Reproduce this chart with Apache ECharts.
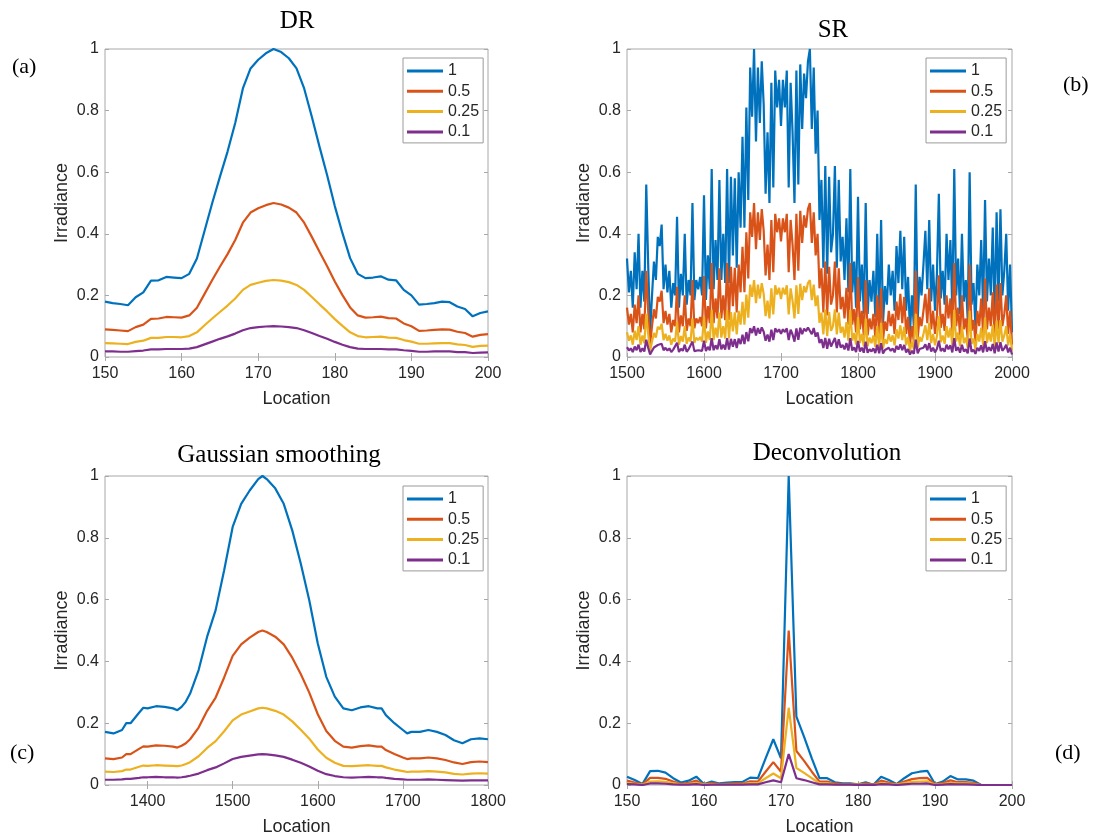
<!DOCTYPE html>
<html>
<head>
<meta charset="utf-8">
<title>Irradiance profiles</title>
<script src="https://cdn.jsdelivr.net/npm/echarts@6/dist/echarts.min.js"></script>
<style>
  html, body { margin: 0; padding: 0; background: #ffffff; }
  #chart { width: 1098px; height: 838px; }
</style>
</head>
<body>
<div id="chart"></div>
<script>
// Legend entries (source scaling factors) and their line colours
const seriesNames = ['1', '0.5', '0.25', '0.1'];
const seriesColors = ['#0072BD', '#D95319', '#EDB120', '#7E2F8E'];

// Tick labels
const yTicks = [0, 0.2, 0.4, 0.6, 0.8, 1];
const drTicks = [150, 160, 170, 180, 190, 200];
const srTicks = [1500, 1600, 1700, 1800, 1900, 2000];
const gsTicks = [1400, 1500, 1600, 1700, 1800];
const dcTicks = [150, 160, 170, 180, 190, 200];

// (a) DR
const drLocation = [150,151,152,153,154,155,156,157,158,159,160,161,162,163,164,165,166,167,168,169,170,171,172,173,174,175,176,177,178,179,180,181,182,183,184,185,186,187,188,189,190,191,192,193,194,195,196,197,198,199,200];
const drS1 = [0.18,0.175,0.172,0.168,0.194,0.21,0.248,0.249,0.26,0.258,0.256,0.27,0.32,0.41,0.50,0.585,0.667,0.76,0.872,0.937,0.965,0.986,1.0,0.99,0.97,0.937,0.872,0.78,0.683,0.59,0.49,0.402,0.321,0.27,0.256,0.258,0.262,0.251,0.249,0.218,0.2,0.17,0.172,0.175,0.18,0.178,0.164,0.156,0.132,0.143,0.148];
const drS05 = [0.09,0.088,0.086,0.084,0.097,0.105,0.124,0.125,0.13,0.129,0.128,0.135,0.16,0.205,0.25,0.293,0.334,0.38,0.436,0.469,0.483,0.493,0.5,0.495,0.485,0.469,0.436,0.39,0.342,0.295,0.245,0.201,0.161,0.135,0.128,0.129,0.131,0.126,0.125,0.109,0.1,0.085,0.086,0.088,0.09,0.089,0.082,0.078,0.066,0.072,0.074];
const drS025 = [0.045,0.044,0.043,0.042,0.049,0.053,0.062,0.062,0.065,0.065,0.064,0.068,0.08,0.103,0.125,0.146,0.167,0.19,0.218,0.234,0.241,0.247,0.25,0.248,0.243,0.234,0.218,0.195,0.171,0.148,0.123,0.101,0.08,0.068,0.064,0.065,0.066,0.063,0.062,0.055,0.05,0.043,0.043,0.044,0.045,0.045,0.041,0.039,0.033,0.036,0.037];
const drS01 = [0.018,0.018,0.017,0.017,0.019,0.021,0.025,0.025,0.026,0.026,0.026,0.027,0.032,0.041,0.05,0.059,0.067,0.076,0.087,0.094,0.097,0.099,0.1,0.099,0.097,0.094,0.087,0.078,0.068,0.059,0.049,0.04,0.032,0.027,0.026,0.026,0.026,0.025,0.025,0.022,0.02,0.017,0.017,0.018,0.018,0.018,0.016,0.016,0.013,0.014,0.015];

// (b) SR, sampled every 2.5 location units from 1500 to 2000
const srLocation = [];
for (let x = 1500; x <= 2000; x += 2.5) srLocation.push(x);
const srS1 = [
  0.32,0.21,0.28,0.16,0.34,0.22,0.40,0.16,0.28,0.18,0.56,0.30,0.08,0.20,0.31,0.25,0.39,0.36,0.43,0.22,0.30,0.21,0.28,0.16,0.24,0.20,0.455,0.16,0.27,0.20,0.40,0.17,0.25,0.20,0.50,0.185,0.25,0.22,0.26,0.20,0.525,0.185,0.33,0.22,0.61,
  0.22,0.38,0.25,0.575,0.25,0.40,0.24,0.61,0.24,0.585,0.33,0.58,0.29,0.60,0.42,0.715,0.42,0.81,0.51,0.94,
  0.78,1.0,0.70,0.94,0.76,0.96,0.82,0.53,0.73,0.50,0.89,0.55,0.93,0.81,0.90,0.75,0.90,0.81,0.93,0.55,0.89,0.73,0.50,0.93,0.56,0.95,0.74,0.92,0.84,0.96,1.0,0.74,
  0.94,0.66,0.80,0.445,0.575,0.29,0.62,0.27,0.585,0.34,0.40,0.62,0.29,0.575,0.31,0.39,0.25,0.45,0.21,0.61,0.21,0.31,0.16,0.52,
  0.18,0.30,0.14,0.50,0.14,0.25,0.18,0.28,0.13,0.40,0.12,0.445,0.11,0.23,0.17,0.30,0.20,0.28,0.15,0.36,0.24,0.41,0.22,0.39,0.15,0.26,0.08,0.20,0.10,0.56,0.12,0.26,0.20,0.30,0.41,0.22,0.445,0.18,0.30,0.15,
  0.27,0.53,0.19,0.28,0.17,0.40,0.25,0.38,0.15,0.61,0.20,0.32,0.14,0.40,0.18,0.25,0.12,0.60,0.17,0.24,0.10,0.30,0.20,0.38,0.15,0.51,0.18,0.32,0.20,0.42,0.12,0.47,0.18,0.48,0.20,0.28,0.40,0.15,0.30,0.08
];
const srS05 = [
  0.16,0.105,0.14,0.08,0.17,0.11,0.20,0.08,0.14,0.09,0.28,0.15,0.04,0.10,0.155,0.125,0.195,0.18,0.215,0.11,0.15,0.105,0.14,0.08,0.12,0.10,0.228,0.08,0.135,0.10,0.20,0.085,0.125,0.10,0.25,0.093,0.125,0.11,0.13,0.10,0.263,0.093,0.165,0.11,0.305,
  0.11,0.19,0.125,0.288,0.125,0.20,0.12,0.305,0.12,0.293,0.165,0.29,0.145,0.30,0.21,0.358,0.21,0.405,0.255,0.47,
  0.39,0.5,0.35,0.47,0.38,0.48,0.41,0.265,0.365,0.25,0.445,0.275,0.465,0.405,0.45,0.375,0.45,0.405,0.465,0.275,0.445,0.365,0.25,0.465,0.28,0.475,0.37,0.46,0.42,0.48,0.5,0.37,
  0.47,0.33,0.40,0.223,0.288,0.145,0.31,0.135,0.293,0.17,0.20,0.31,0.145,0.288,0.155,0.195,0.125,0.225,0.105,0.305,0.105,0.155,0.08,0.26,
  0.09,0.15,0.07,0.25,0.07,0.125,0.09,0.14,0.065,0.20,0.06,0.223,0.055,0.115,0.085,0.15,0.10,0.14,0.075,0.18,0.12,0.205,0.11,0.195,0.075,0.13,0.04,0.10,0.05,0.28,0.06,0.13,0.10,0.15,0.205,0.11,0.223,0.09,0.15,0.075,
  0.135,0.265,0.095,0.14,0.085,0.20,0.125,0.19,0.075,0.305,0.10,0.16,0.07,0.20,0.09,0.125,0.06,0.30,0.085,0.12,0.05,0.15,0.10,0.19,0.075,0.255,0.09,0.16,0.10,0.21,0.06,0.235,0.09,0.24,0.10,0.14,0.20,0.075,0.15,0.04
];
const srS025 = [
  0.08,0.053,0.07,0.04,0.085,0.055,0.10,0.04,0.07,0.045,0.14,0.075,0.02,0.05,0.078,0.063,0.098,0.09,0.108,0.055,0.075,0.053,0.07,0.04,0.06,0.05,0.114,0.04,0.068,0.05,0.10,0.043,0.063,0.05,0.125,0.046,0.063,0.055,0.065,0.05,0.131,0.046,0.083,0.055,0.153,
  0.055,0.095,0.063,0.144,0.063,0.10,0.06,0.153,0.06,0.146,0.083,0.145,0.073,0.15,0.105,0.179,0.105,0.203,0.128,0.235,
  0.195,0.25,0.175,0.235,0.19,0.24,0.205,0.133,0.183,0.125,0.223,0.138,0.233,0.203,0.225,0.188,0.225,0.203,0.233,0.138,0.223,0.183,0.125,0.233,0.14,0.238,0.185,0.23,0.21,0.24,0.25,0.185,
  0.235,0.165,0.20,0.111,0.144,0.073,0.155,0.068,0.146,0.085,0.10,0.155,0.073,0.144,0.078,0.098,0.063,0.113,0.053,0.153,0.053,0.078,0.04,0.13,
  0.045,0.075,0.035,0.125,0.035,0.063,0.045,0.07,0.033,0.10,0.03,0.111,0.028,0.058,0.043,0.075,0.05,0.07,0.038,0.09,0.06,0.103,0.055,0.098,0.038,0.065,0.02,0.05,0.025,0.14,0.03,0.065,0.05,0.075,0.103,0.055,0.111,0.045,0.075,0.038,
  0.068,0.133,0.048,0.07,0.043,0.10,0.063,0.095,0.038,0.153,0.05,0.08,0.035,0.10,0.045,0.063,0.03,0.15,0.043,0.06,0.025,0.075,0.05,0.095,0.038,0.128,0.045,0.08,0.05,0.105,0.03,0.118,0.045,0.12,0.05,0.07,0.10,0.038,0.075,0.02
];
const srS01 = [
  0.032,0.021,0.028,0.016,0.034,0.022,0.04,0.016,0.028,0.018,0.056,0.03,0.008,0.02,0.031,0.025,0.039,0.036,0.043,0.022,0.03,0.021,0.028,0.016,0.024,0.02,0.046,0.016,0.027,0.02,0.04,0.017,0.025,0.02,0.05,0.019,0.025,0.022,0.026,0.02,0.053,0.019,0.033,0.022,0.061,
  0.022,0.038,0.025,0.058,0.025,0.04,0.024,0.061,0.024,0.059,0.033,0.058,0.029,0.06,0.042,0.072,0.042,0.081,0.051,0.094,
  0.078,0.1,0.07,0.094,0.076,0.096,0.082,0.053,0.073,0.05,0.089,0.055,0.093,0.081,0.09,0.075,0.09,0.081,0.093,0.055,0.089,0.073,0.05,0.093,0.056,0.095,0.074,0.092,0.084,0.096,0.1,0.074,
  0.094,0.066,0.08,0.045,0.058,0.029,0.062,0.027,0.059,0.034,0.04,0.062,0.029,0.058,0.031,0.039,0.025,0.045,0.021,0.061,0.021,0.031,0.016,0.052,
  0.018,0.03,0.014,0.05,0.014,0.025,0.018,0.028,0.013,0.04,0.012,0.045,0.011,0.023,0.017,0.03,0.02,0.028,0.015,0.036,0.024,0.041,0.022,0.039,0.015,0.026,0.008,0.02,0.01,0.056,0.012,0.026,0.02,0.03,0.041,0.022,0.045,0.018,0.03,0.015,
  0.027,0.053,0.019,0.028,0.017,0.04,0.025,0.038,0.015,0.061,0.02,0.032,0.014,0.04,0.018,0.025,0.012,0.06,0.017,0.024,0.01,0.03,0.02,0.038,0.015,0.051,0.018,0.032,0.02,0.042,0.012,0.047,0.018,0.048,0.02,0.028,0.04,0.015,0.03,0.008
];

// (c) Gaussian smoothing
const gsLocation = [1350,1360,1370,1375,1380,1390,1395,1400,1410,1420,1430,1435,1440,1445,1450,1460,1470,1480,1490,1500,1510,1520,1530,1535,1540,1550,1560,1570,1580,1590,1600,1610,1620,1630,1640,1650,1660,1670,1675,1680,1690,1700,1705,1710,1720,1730,1740,1750,1760,1770,1780,1790,1800];
const gsS1 = [0.172,0.167,0.178,0.2,0.2,0.234,0.25,0.248,0.255,0.253,0.248,0.242,0.253,0.27,0.296,0.372,0.48,0.566,0.695,0.835,0.91,0.953,0.99,1.0,0.99,0.96,0.91,0.824,0.717,0.598,0.458,0.35,0.286,0.248,0.242,0.251,0.255,0.248,0.248,0.226,0.2,0.178,0.167,0.172,0.172,0.178,0.172,0.162,0.145,0.135,0.148,0.151,0.148];
const gsS05 = [0.086,0.084,0.089,0.1,0.1,0.117,0.125,0.124,0.128,0.127,0.124,0.121,0.127,0.135,0.148,0.186,0.24,0.283,0.348,0.418,0.455,0.477,0.495,0.5,0.495,0.48,0.455,0.412,0.359,0.299,0.229,0.175,0.143,0.124,0.121,0.126,0.128,0.124,0.124,0.113,0.1,0.089,0.084,0.086,0.086,0.089,0.086,0.081,0.073,0.068,0.074,0.076,0.074];
const gsS025 = [0.043,0.042,0.045,0.05,0.05,0.059,0.063,0.062,0.064,0.063,0.062,0.061,0.063,0.068,0.074,0.093,0.12,0.142,0.174,0.209,0.228,0.238,0.248,0.25,0.248,0.24,0.228,0.206,0.179,0.15,0.115,0.088,0.072,0.062,0.061,0.063,0.064,0.062,0.062,0.057,0.05,0.045,0.042,0.043,0.043,0.045,0.043,0.041,0.036,0.034,0.037,0.038,0.037];
const gsS01 = [0.017,0.017,0.018,0.02,0.02,0.023,0.025,0.025,0.026,0.025,0.025,0.024,0.025,0.027,0.03,0.037,0.048,0.057,0.07,0.084,0.091,0.095,0.099,0.1,0.099,0.096,0.091,0.082,0.072,0.06,0.046,0.035,0.029,0.025,0.024,0.025,0.026,0.025,0.025,0.023,0.02,0.018,0.017,0.017,0.017,0.018,0.017,0.016,0.015,0.014,0.015,0.015,0.015];

// (d) Deconvolution
const dcLocation = [150,151,152,153,154,155,156,157,158,159,160,161,162,163,164,165,166,167,168,169,170,171,172,173,174,175,176,177,178,179,180,181,182,183,184,185,186,187,188,189,190,191,192,193,194,195,196,197,198,199,200];
const dcS1 = [0.027,0.016,0.003,0.045,0.046,0.04,0.022,0.008,0.014,0.027,0.003,0.011,0.005,0.008,0.009,0.01,0.024,0.022,0.086,0.148,0.086,1.0,0.221,0.156,0.086,0.022,0.022,0.009,0.005,0.005,0.002,0.009,0.001,0.027,0.016,0.003,0.022,0.038,0.043,0.046,0.003,0.011,0.029,0.018,0.018,0.014,0,0,0,0,0];
const dcS05 = [0.014,0.008,0.002,0.023,0.023,0.02,0.011,0.004,0.007,0.014,0.002,0.006,0.003,0.004,0.005,0.005,0.012,0.011,0.043,0.074,0.043,0.5,0.11,0.078,0.043,0.011,0.011,0.005,0.003,0.003,0.001,0.005,0.001,0.014,0.008,0.002,0.011,0.019,0.022,0.023,0.002,0.006,0.015,0.009,0.009,0.007,0,0,0,0,0];
const dcS025 = [0.007,0.004,0.001,0.011,0.012,0.01,0.006,0.002,0.004,0.007,0.001,0.003,0.001,0.002,0.002,0.003,0.006,0.006,0.022,0.037,0.022,0.25,0.055,0.039,0.022,0.006,0.006,0.002,0.001,0.001,0.001,0.002,0,0.007,0.004,0.001,0.006,0.01,0.011,0.012,0.001,0.003,0.007,0.005,0.005,0.004,0,0,0,0,0];
const dcS01 = [0.003,0.002,0,0.005,0.005,0.004,0.002,0.001,0.001,0.003,0,0.001,0.001,0.001,0.001,0.001,0.002,0.002,0.009,0.015,0.009,0.1,0.022,0.016,0.009,0.002,0.002,0.001,0.001,0.001,0,0.001,0,0.003,0.002,0,0.002,0.004,0.004,0.005,0,0.001,0.003,0.002,0.002,0.001,0,0,0,0,0];

// Panel definitions: plot box, axis range, title and tag placement
const panels = [
  { title: 'DR', tag: '(a)', x: drLocation, ys: [drS1, drS05, drS025, drS01], xMin: 150, xMax: 200, xTicks: drTicks,
    grid: { left: 105, top: 49, width: 383, height: 308 }, titlePos: [297, 9], tagPos: [12, 56], legendPos: [403, 58] },
  { title: 'SR', tag: '(b)', x: srLocation, ys: [srS1, srS05, srS025, srS01], xMin: 1500, xMax: 2000, xTicks: srTicks,
    grid: { left: 627, top: 49, width: 385, height: 308 }, titlePos: [833, 18], tagPos: [1063, 74], legendPos: [926, 58] },
  { title: 'Gaussian smoothing', tag: '(c)', x: gsLocation, ys: [gsS1, gsS05, gsS025, gsS01], xMin: 1350, xMax: 1800, xTicks: gsTicks,
    grid: { left: 105, top: 476, width: 383, height: 309 }, titlePos: [279, 443], tagPos: [10, 742], legendPos: [403, 486] },
  { title: 'Deconvolution', tag: '(d)', x: dcLocation, ys: [dcS1, dcS05, dcS025, dcS01], xMin: 150, xMax: 200, xTicks: dcTicks,
    grid: { left: 627, top: 476, width: 385, height: 309 }, titlePos: [827, 441], tagPos: [1055, 742], legendPos: [926, 486] }
];

const tickFont = { fontFamily: 'Liberation Sans, Arial, sans-serif', fontSize: 16, color: '#262626' };
const nameFont = { fontFamily: 'Liberation Sans, Arial, sans-serif', fontSize: 18, color: '#262626' };
const boxColor = '#a8a8a8';
const plainNumber = v => String(v);

const grids = [], xAxes = [], yAxes = [], series = [], legends = [], titles = [], graphics = [];

panels.forEach((p, gi) => {
  grids.push(Object.assign({ show: true, borderColor: boxColor, borderWidth: 1, backgroundColor: '#ffffff', containLabel: false }, p.grid));

  // bottom axis with labels, top axis mirrors the ticks
  const xBase = { type: 'value', gridIndex: gi, min: p.xMin, max: p.xMax, splitLine: { show: false }, axisLine: { show: false } };
  xAxes.push(Object.assign({}, xBase, {
    position: 'bottom',
    name: 'Location', nameLocation: 'middle', nameGap: 33, nameTextStyle: nameFont,
    axisTick: { show: true, inside: true, length: 4, lineStyle: { color: boxColor }, customValues: p.xTicks },
    axisLabel: Object.assign({ margin: 9, customValues: p.xTicks, formatter: plainNumber }, tickFont)
  }));
  xAxes.push(Object.assign({}, xBase, {
    position: 'top',
    axisTick: { show: true, inside: true, length: 4, lineStyle: { color: boxColor }, customValues: p.xTicks },
    axisLabel: { show: false }
  }));

  const yBase = { type: 'value', gridIndex: gi, min: 0, max: 1, interval: 0.2, splitLine: { show: false }, axisLine: { show: false } };
  yAxes.push(Object.assign({}, yBase, {
    position: 'left',
    name: 'Irradiance', nameLocation: 'middle', nameGap: 34, nameTextStyle: nameFont,
    axisTick: { show: true, inside: true, length: 4, lineStyle: { color: boxColor } },
    axisLabel: Object.assign({ margin: 6, formatter: plainNumber }, tickFont)
  }));
  yAxes.push(Object.assign({}, yBase, {
    position: 'right',
    axisTick: { show: true, inside: true, length: 4, lineStyle: { color: boxColor } },
    axisLabel: { show: false }
  }));

  p.ys.forEach((vals, si) => {
    series.push({
      type: 'line',
      name: seriesNames[si],
      xAxisIndex: gi * 2,
      yAxisIndex: gi * 2,
      data: p.x.map((x, k) => [x, vals[k]]),
      showSymbol: false,
      symbol: 'none',
      clip: true,
      lineStyle: { color: seriesColors[si], width: 2.2 },
      itemStyle: { color: seriesColors[si] },
      z: 2 + si
    });
  });

  legends.push({
    orient: 'vertical',
    left: p.legendPos[0], top: p.legendPos[1],
    data: seriesNames,
    icon: 'rect',
    itemWidth: 36, itemHeight: 3, itemGap: 4.3, itemTextGap: 2,
    padding: [5, 4, 3, 4],
    borderColor: '#9a9a9a', borderWidth: 1, backgroundColor: '#ffffff',
    selectedMode: false,
    textStyle: { fontFamily: 'Liberation Sans, Arial, sans-serif', fontSize: 16, lineHeight: 16, color: '#262626' },
    z: 10
  });

  titles.push({
    text: p.title,
    left: p.titlePos[0], top: p.titlePos[1],
    textAlign: 'center',
    padding: 0,
    textStyle: { fontFamily: 'Liberation Serif, Times New Roman, serif', fontSize: 25, fontWeight: 'normal', color: '#000000' }
  });

  graphics.push({
    type: 'text', left: p.tagPos[0], top: p.tagPos[1],
    style: { text: p.tag, font: '22px "Liberation Serif", "Times New Roman", serif', fill: '#000000' }
  });
});

const chart = echarts.init(document.getElementById('chart'), null, { renderer: 'canvas' });
chart.setOption({
  backgroundColor: '#ffffff',
  animation: false,
  color: seriesColors,
  title: titles,
  grid: grids,
  xAxis: xAxes,
  yAxis: yAxes,
  legend: legends,
  series: series,
  graphic: graphics
});
</script>
</body>
</html>
